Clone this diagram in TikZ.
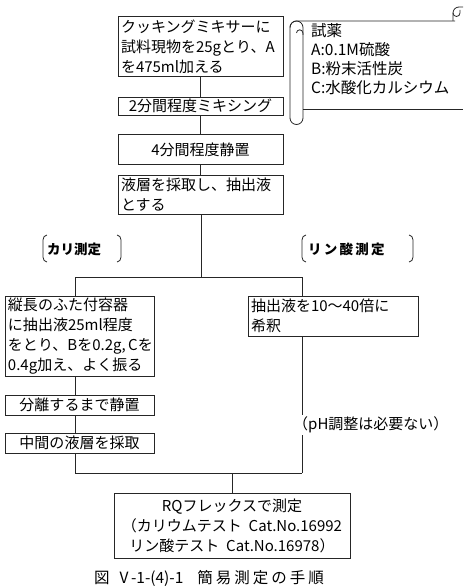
\documentclass[tikz,border=0pt]{standalone}
\usepackage{fontspec}
\newfontfamily\jp{Noto Sans CJK JP}
\newcommand{\jpf}{\jp\fontsize{15}{20}\selectfont}
\newcommand{\jps}{\jp\fontsize{13.5}{16}\selectfont\bfseries}
\newcommand{\jpc}{\jp\fontsize{15.5}{20}\selectfont}
\tikzset{
  box/.style={draw=black!85, line width=0.8pt, inner sep=3pt, font=\jpf},
  ln/.style={draw=black!85, line width=0.8pt},
  plain/.style={inner sep=0pt, font=\jpf}
}
\begin{document}
\begin{tikzpicture}[x=1pt,y=-1pt]
\useasboundingbox (0,0) rectangle (463,586);
% main column
\node[box, minimum width=165, minimum height=59, text width=159, align=left] (b1) at (200.5,46.5)
  {クッキングミキサーに\\試料現物を25gとり、A\\を475ml加える};
\node[box, minimum width=165, minimum height=18, inner ysep=0pt, align=center] (b2) at (200.5,106)
  {2分間程度ミキシング};
\node[box, minimum width=165, minimum height=30, align=center] (b3) at (200.5,149.5)
  {4分間程度静置};
\node[box, minimum width=165, minimum height=39, inner ysep=0pt, text width=159, align=left] (b4) at (200.5,194.5)
  {液層を採取し、抽出液\\とする};
\draw[ln] (b1) -- (b2);
\draw[ln] (b2) -- (b3);
\draw[ln] (b3) -- (b4);
\coordinate (j) at (201,277);
\coordinate (jl) at (75,277);
\coordinate (jr) at (302,277);
\draw[ln] (b4.south -| j) -- (j);
\draw[ln] (jl) -- (jr);
% reagent scroll
\node[plain, anchor=north west, align=left, font=\jp\fontsize{15.5}{19.2}\selectfont] (reag) at (311,23)
  {試薬\\A:0.1M硫酸\\B:粉末活性炭\\C:水酸化カルシウム};
\draw[ln] (290,118) -- (290,27.5) arc[start angle=180,end angle=270,radius=6.5] -- (455,21);
\draw[ln] (290,27.5) arc[start angle=180,end angle=360,radius=6.5] -- (303,118)
  arc[start angle=0,end angle=180,radius=6.5];
\draw[ln] (296.5,33) arc[start angle=180,end angle=360,radius=3.2] -- (302.9,35);
\draw[ln] (303,109) -- (463,109);
\draw[ln] (453,21) -- (453,13) arc[start angle=180,end angle=270,radius=6] -- (463,7);
\draw[ln] (453,13) arc[start angle=180,end angle=0,radius=3.5] -- (460,10);
% branch labels
\node[plain, font=\jps] (kl) at (74,249) {カリ測定};
\draw[ln] (47,235) to[out=180,in=90] (43,240) -- (43,257) to[out=-90,in=180] (47,262);
\draw[ln] (117,235) to[out=0,in=90] (121,240) -- (121,257) to[out=-90,in=0] (117,262);
\node[plain, font=\jps, anchor=west] (rl) at (308,249) {リ\,ン\,酸\,測\,定};
\draw[ln] (306,235) to[out=180,in=90] (302,240) -- (302,257) to[out=-90,in=180] (306,262);
\draw[ln] (409,235) to[out=0,in=90] (413,240) -- (413,257) to[out=-90,in=0] (409,262);
% left branch
\node[box, minimum width=149, minimum height=80, inner ysep=0pt, text width=143, align=left] (b5) at (79.5,336)
  {\mbox{縦長のふた付容器}\\\mbox{に抽出液25ml程度}\\\mbox{をとり、Bを0.2g,\,Cを}\\\mbox{0.4g加え、よく振る}};
\node[box, minimum width=149, minimum height=20, inner ysep=0pt, align=center] (b6) at (79.5,405)
  {分離するまで静置};
\node[box, minimum width=149, minimum height=20, inner ysep=0pt, align=center] (b7) at (79.5,443)
  {中間の液層を採取};
\draw[ln] (jl) -- (b5.north -| jl);
\draw[ln] (b5.south -| jl) -- (b6.north -| jl);
\draw[ln] (b6.south -| jl) -- (b7.north -| jl);
% right branch
\node[box, minimum width=170, minimum height=40, inner ysep=0pt, text width=164, align=left] (r1) at (333,316)
  {抽出液を10～40倍に\\希釈};
\draw[ln] (jr) -- (r1.north -| jr);
% merge
\coordinate (ml) at (75,473);
\coordinate (mr) at (302,473);
\coordinate (mc) at (232,473);
\draw[ln] (b7.south -| ml) -- (ml) -- (mr);
\draw[ln] (r1.south -| mr) -- (mr);
\node[plain, anchor=west, fill=white, inner ysep=2pt] (ph) at (293,425) {（pH調整は必要ない）};
\node[box, minimum width=236, minimum height=65, align=center] (b8) at (232,525.5)
  {RQフレックスで測定\\（カリウムテスト\ \ Cat.No.16992\\リン酸テスト\ \ Cat.No.16978）};
\draw[ln] (mc) -- (b8.north -| mc);
% caption
\node[inner sep=0pt, font=\jpc, anchor=base] (cap) at (209,583)
  {図\hspace{10pt}V\,-1-(4)-1\hspace{14pt}簡\hspace{3pt}易\hspace{3pt}測\hspace{3pt}定\hspace{3pt}の\hspace{3pt}手\hspace{3pt}順};
\end{tikzpicture}
\end{document}
